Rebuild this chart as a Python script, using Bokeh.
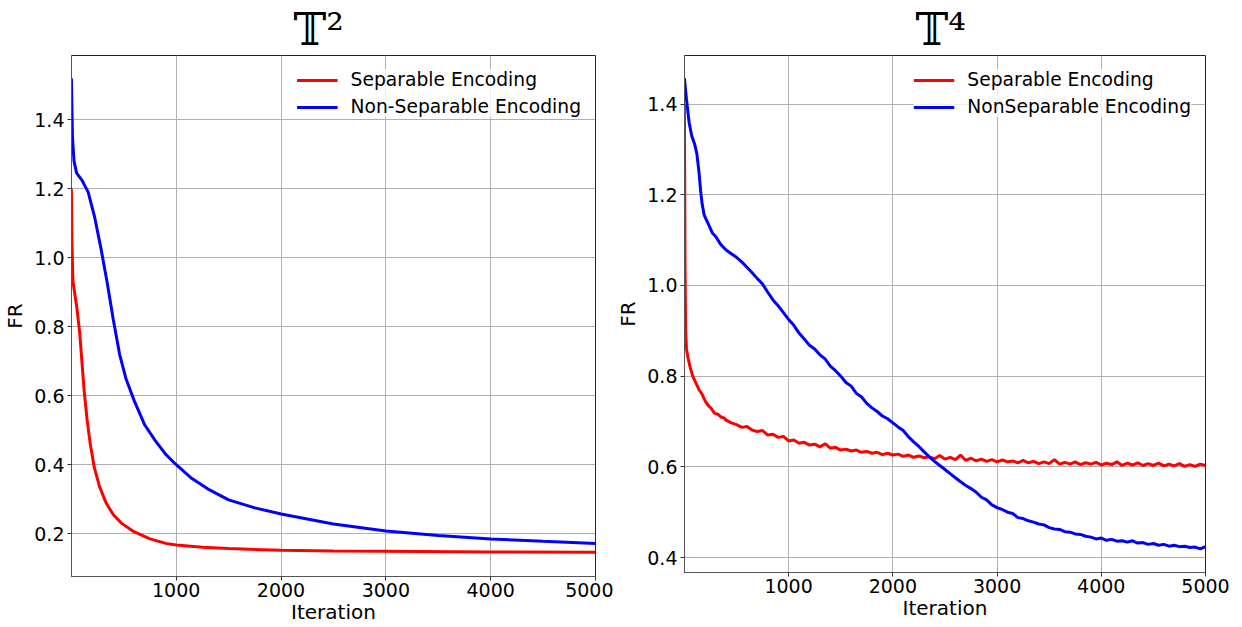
from bokeh.plotting import figure
from bokeh.layouts import row
from bokeh.models import Range1d, FixedTicker, PrintfTickFormatter
from bokeh.embed import file_html
from bokeh.resources import INLINE

# ---------------- data: left panel (T^2) ----------------
x_sep2 = [0, 5, 15, 30, 50, 80, 100, 120, 150, 180, 220, 270, 330, 400, 480, 600,
          750, 900, 1000, 1250, 1500, 2000, 2500, 3000, 4000, 5000]
y_sep2 = [1.20, 1.05, 0.93, 0.90, 0.86, 0.78, 0.70, 0.62, 0.53, 0.46, 0.39, 0.335,
          0.29, 0.255, 0.23, 0.205, 0.185, 0.172, 0.167, 0.161, 0.157, 0.152, 0.150,
          0.149, 0.147, 0.146]
x_non2 = [0, 10, 25, 50, 100, 160, 220, 280, 340, 400, 460, 520, 600, 700, 800, 900,
          1000, 1150, 1300, 1500, 1750, 2000, 2500, 3000, 3500, 4000, 4500, 5000]
y_non2 = [1.52, 1.35, 1.28, 1.245, 1.225, 1.19, 1.12, 1.03, 0.93, 0.82, 0.72, 0.65,
          0.585, 0.515, 0.47, 0.43, 0.40, 0.36, 0.33, 0.298, 0.275, 0.257, 0.228,
          0.208, 0.195, 0.185, 0.178, 0.172]

# ---------------- data: right panel (T^4) ----------------
x_sep4 = [0, 6, 12, 20, 35, 55, 80, 110, 140, 170, 200, 230, 260, 290, 320, 350, 380] + list(range(400, 5001, 50))
y_sep4 = [1.40, 1.05, 0.90, 0.86, 0.84, 0.82, 0.80, 0.785, 0.77, 0.76, 0.745, 0.735,
          0.728, 0.718, 0.716, 0.710, 0.708,
          0.703, 0.697, 0.693, 0.687, 0.689, 0.681, 0.678, 0.680, 0.670, 0.672,
          0.665, 0.667, 0.657, 0.659, 0.652, 0.654, 0.648, 0.650, 0.644, 0.651,
          0.641, 0.643, 0.637, 0.639, 0.635, 0.637, 0.632, 0.634, 0.630, 0.632,
          0.627, 0.630, 0.626, 0.628, 0.623, 0.626, 0.621, 0.624, 0.620, 0.622,
          0.618, 0.625, 0.617, 0.621, 0.616, 0.626, 0.614, 0.619, 0.613, 0.617,
          0.612, 0.616, 0.611, 0.615, 0.611, 0.613, 0.609, 0.614, 0.609, 0.612,
          0.607, 0.611, 0.607, 0.616, 0.606, 0.610, 0.606, 0.611, 0.605, 0.609,
          0.606, 0.610, 0.604, 0.608, 0.605, 0.611, 0.603, 0.608, 0.604, 0.609,
          0.603, 0.607, 0.603, 0.608, 0.602, 0.606, 0.602, 0.607, 0.601, 0.605,
          0.601, 0.606, 0.603]
x_non4 = [0, 20, 45, 70, 100, 120, 140, 155, 170, 190, 210, 240, 270, 300, 350] + list(range(400, 5001, 50))
y_non4 = [1.457, 1.41, 1.36, 1.33, 1.31, 1.29, 1.25, 1.21, 1.18, 1.155, 1.145, 1.13,
          1.115, 1.108, 1.09,
          1.078, 1.070, 1.062, 1.052, 1.040, 1.028, 1.015, 1.003, 0.985, 0.968,
          0.955, 0.940, 0.925, 0.912, 0.895, 0.882, 0.868, 0.860, 0.847, 0.838,
          0.822, 0.812, 0.800, 0.786, 0.778, 0.762, 0.754, 0.740, 0.730, 0.722,
          0.712, 0.706, 0.697, 0.688, 0.680, 0.666, 0.655, 0.645, 0.633, 0.622,
          0.612, 0.603, 0.594, 0.585, 0.576, 0.567, 0.559, 0.552, 0.544, 0.533,
          0.527, 0.516, 0.510, 0.506, 0.500, 0.497, 0.488, 0.486, 0.481, 0.478,
          0.474, 0.472, 0.466, 0.463, 0.462, 0.457, 0.456, 0.452, 0.451, 0.447,
          0.445, 0.441, 0.443, 0.438, 0.440, 0.436, 0.437, 0.434, 0.437, 0.432,
          0.433, 0.429, 0.431, 0.427, 0.429, 0.425, 0.427, 0.424, 0.425, 0.422,
          0.423, 0.419, 0.424]

x_ticks = [1000, 2000, 3000, 4000, 5000]
y_ticks2 = [0.2, 0.4, 0.6, 0.8, 1.0, 1.2, 1.4]
y_ticks4 = [0.4, 0.6, 0.8, 1.0, 1.2, 1.4]

FONT = "DejaVu Sans"


def make_fig(title, title_off, fw, fh, bl, br, bt, bb, yr, yticks, xs, ys, labels):
    p = figure(frame_width=fw, frame_height=fh, output_backend="svg", toolbar_location=None,
               x_range=Range1d(1, 5000), y_range=Range1d(*yr),
               min_border_left=bl, min_border_right=br, min_border_top=bt,
               min_border_bottom=bb, title=title)
    p.title.align = "left"
    p.title.offset = title_off
    p.title.text_font = "DejaVu Serif"
    p.title.text_font_size = "44px"
    p.title.text_line_height = 1.0
    p.title.text_font_style = "normal"
    p.title.text_color = "black"
    p.title.standoff = 2

    for x, y, c, lab in zip(xs, ys, ["#ff0000", "#0000ff"], labels):
        p.line(x, y, line_color=c, line_width=3, legend_label=lab)

    p.xaxis.ticker = FixedTicker(ticks=x_ticks)
    p.yaxis.ticker = FixedTicker(ticks=yticks)
    p.yaxis.formatter = PrintfTickFormatter(format="%.1f")
    p.xaxis.axis_label = "Iteration"
    p.yaxis.axis_label = "FR"
    for ax in (p.xaxis, p.yaxis):
        ax.axis_label_text_font = FONT
        ax.axis_label_text_font_size = "20px"
        ax.axis_label_text_font_style = "normal"
        ax.axis_label_text_color = "black"
        ax.major_label_text_font = FONT
        ax.major_label_text_font_size = "19px"
        ax.major_label_text_color = "black"
        ax.major_tick_out = 4
        ax.major_tick_in = 0
        ax.minor_tick_out = 0
        ax.minor_tick_in = 0
        ax.major_tick_line_color = "#333333"
        ax.axis_line_color = "#555555"
        ax.major_label_standoff = 3
        ax.axis_label_standoff = 4
    p.xaxis.major_label_standoff = 2
    p.xaxis.axis_label_standoff = 0

    p.xgrid.grid_line_color = "#b0b0b0"
    p.ygrid.grid_line_color = "#b0b0b0"
    p.xgrid.grid_line_width = 1
    p.ygrid.grid_line_width = 1
    p.outline_line_color = "#222222"
    p.outline_line_width = 1

    lg = p.legend[0]
    lg.location = "top_right"
    lg.label_text_font = FONT
    lg.label_text_font_size = "18.7px"
    lg.label_text_color = "black"
    lg.glyph_width = 41
    lg.label_standoff = 13
    lg.spacing = 6
    lg.margin = 14
    lg.padding = 9
    lg.border_line_color = None
    lg.background_fill_color = "white"
    lg.background_fill_alpha = 0.8
    return p


p1 = make_fig("𝕋²", 222, 524, 521, 62, 18, 50, 48, (0.076, 1.586), y_ticks2,
              [x_sep2, x_non2], [y_sep2, y_non2],
              ["Separable Encoding", "Non-Separable Encoding"])
p2 = make_fig("𝕋⁴", 231, 521, 517, 64, 30, 51, 51, (0.367, 1.507), y_ticks4,
              [x_sep4, x_non4], [y_sep4, y_non4],
              ["Separable Encoding", "NonSeparable Encoding"])

layout = row(p1, p2)
open("out.html", "w").write(file_html(layout, INLINE))
